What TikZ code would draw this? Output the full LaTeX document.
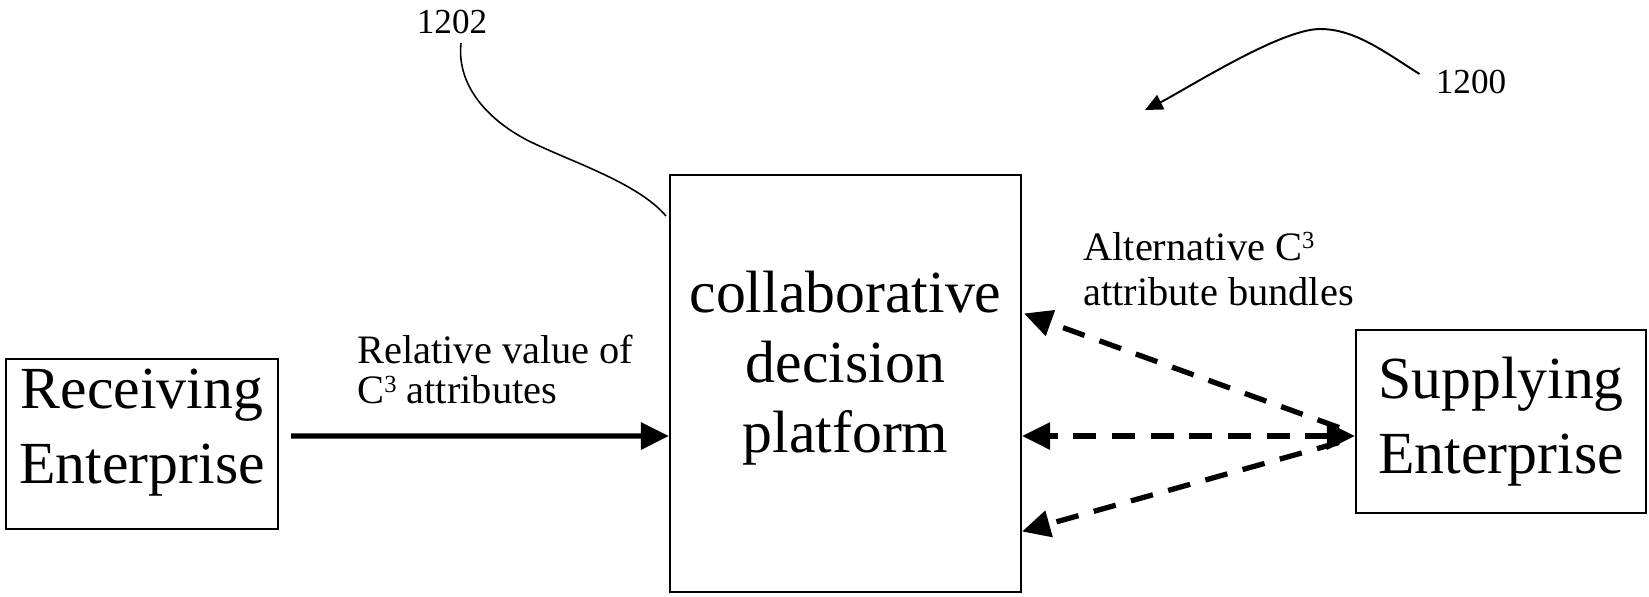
\documentclass[tikz,border=0pt]{standalone}
\usepackage{fontspec}
\setmainfont{Liberation Serif}
\usetikzlibrary{calc,arrows.meta,positioning}
\newcommand{\Cthree}{C\smash{\raisebox{6.5pt}{\fontsize{14}{14}\selectfont 3}}}
\tikzset{
    every node/.style={inner sep=0pt},
    box node/.style={draw,line width=1.2pt,rectangle},
    box text/.style={align=center,font=\fontsize{34}{42.5}\selectfont},
    label node/.style={align=left,anchor=north west,font=\fontsize{23}{22.8}\selectfont},
    ref node/.style={font=\fontsize{20}{20}\selectfont},
    flow/.style={line width=3pt,->},
    bundle/.style={flow,dash pattern=on 13pt off 9pt},
    leader/.style={line width=1pt}
}

\begin{document}
\begin{tikzpicture}[x=0.02cm,y=-0.02cm,>={Triangle[length=16pt,width=15pt]}]
    \useasboundingbox (0,0) rectangle (1649,596);

    % boxes
    \node[box node,minimum width=7.02cm,minimum height=8.34cm] (cdp) at (845.5,383.5) {};
    \node[box text,font=\fontsize{34}{40}\selectfont] (cdptext) at ([yshift=8.8pt]cdp.center) {collaborative\\decision\\platform};
    \node[box node,minimum width=5.44cm,minimum height=3.4cm] (recv) at (142,444) {};
    \node[box text] (recvtext) at ([yshift=6.5pt]recv.center) {Receiving\\Enterprise};
    \node[box node,box text,minimum width=5.8cm,minimum height=3.66cm] (sup) at (1501,421.5) {Supplying\\Enterprise};

    % labels
    \node[label node] (relval) at (357,335) {Relative value of\\\Cthree{} attributes};
    \node[label node,font=\fontsize{23}{25.6}\selectfont] (altbundle) at (1083,232) {Alternative \Cthree\\attribute bundles};
    \node[ref node] (n1202) at (452,22) {1202};
    \node[ref node] (n1200) at (1471,82) {1200};

    % flows
    \draw[flow] ($(recv.east)+(12,-8)$) -- ($(cdp.west)+(0,52.5)$);
    \draw[bundle] ($(sup.west)+(-16,6)$) -- ($(cdp.east)+(2,-70)$);
    \draw[bundle,<->] ($(sup.west)+(0,14.5)$) -- ($(cdp.east)+(0,52.5)$);
    \draw[bundle] ($(sup.west)+(-16,21)$) -- ($(cdp.east)+(0,148)$);

    % reference leaders
    \draw[leader,line width=0.9pt] ($(n1202.south)+(9,9)$) .. controls +(-5,47) and +(-38,-18) .. (533,143) .. controls +(42,20) and +(-27,-32) .. ($(cdp.north west)+(-3,42)$);
    \coordinate (tip1200) at (1145,110);
    \draw[leader,line width=1.1pt,-{Triangle[length=10pt,width=9pt]}] ($(n1200.west)+(-16,-8)$) .. controls +(-35,-22) and +(35,0) .. (1320,29) .. controls +(-40,0) and +(40,-20) .. (tip1200);
\end{tikzpicture}
\end{document}
